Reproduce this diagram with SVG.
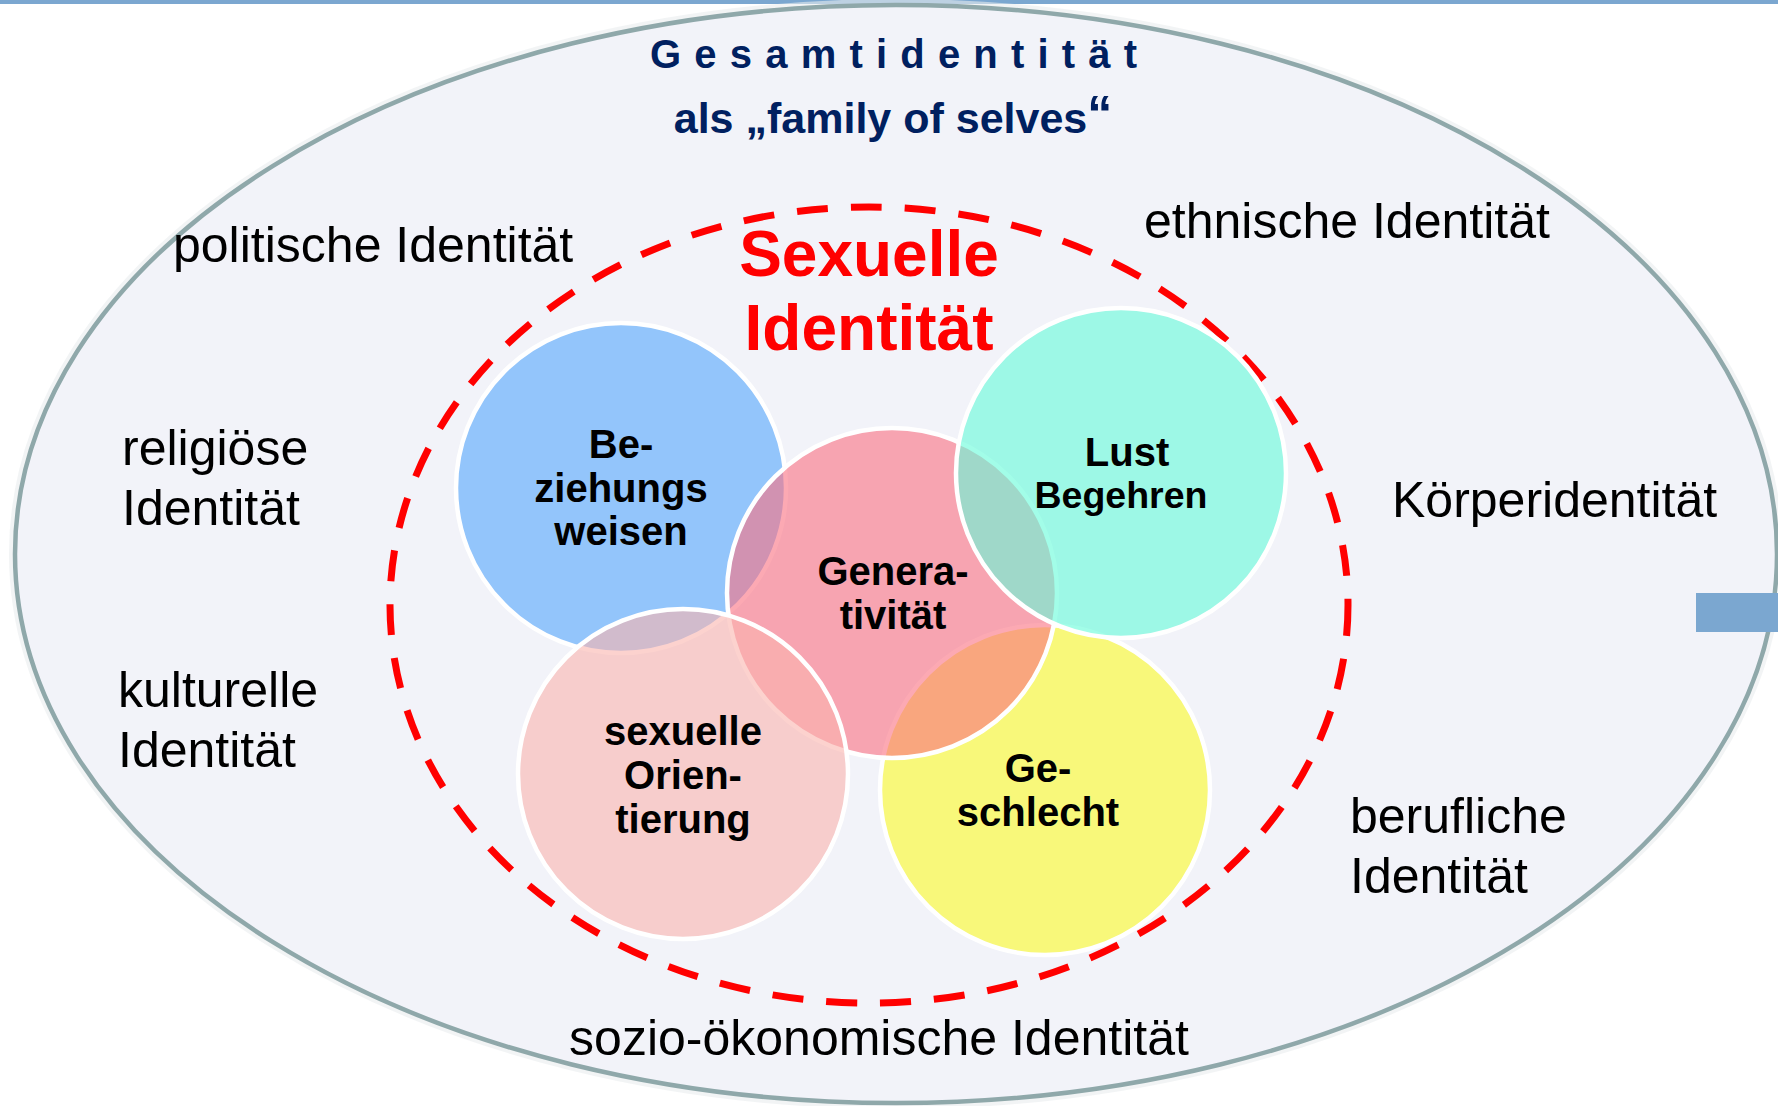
<svg xmlns="http://www.w3.org/2000/svg" width="1778" height="1106" viewBox="0 0 1778 1106">
  <defs>
    <style>
      .lbl { font-family: "Liberation Sans", Arial, sans-serif; font-size: 50px; fill: #000; }
      .cl { font-family: "Liberation Sans", Arial, sans-serif; font-size: 40px; font-weight: bold; fill: #000; text-anchor: middle; }
      .venn { stroke: #ffffff; stroke-width: 4.5; fill-opacity: 0.6; }
      .title { font-family: "Liberation Sans", Arial, sans-serif; font-weight: bold; fill: #002060; }
      .red { font-family: "Liberation Sans", Arial, sans-serif; font-weight: bold; font-size: 64px; fill: #ff0000; text-anchor: middle; }
    </style>
  </defs>
  <rect x="0" y="0" width="1778" height="1106" fill="#ffffff"/>
  <rect x="0" y="0" width="1778" height="4" fill="#7BA7D0"/>

  <g id="gesamtidentitaet">
    <ellipse cx="896" cy="554" rx="884" ry="552" fill="none" stroke="#e9ecef" stroke-width="6" opacity="0.6"/>
    <ellipse cx="896" cy="554" rx="881" ry="549" fill="#F2F3F9" stroke="#8FA8AA" stroke-width="4.5"/>
    <text class="title" x="650" y="68" font-size="40" letter-spacing="13.2">Gesamtidentität</text>
    <text class="title" x="893" y="133" font-size="43" text-anchor="middle">als „family of selves<tspan font-size="50" dy="-2">“</tspan></text>
  </g>

  <rect x="1696" y="593" width="82" height="39" fill="#7BA7D0"/>

  <g id="outer-labels">
    <text class="lbl" x="173" y="262">politische Identität</text>
    <text class="lbl" x="1144" y="238">ethnische Identität</text>
    <text class="lbl" x="122" y="465">religiöse</text>
    <text class="lbl" x="122" y="525">Identität</text>
    <text class="lbl" x="118" y="707">kulturelle</text>
    <text class="lbl" x="118" y="767">Identität</text>
    <text class="lbl" x="1392" y="517">Körperidentität</text>
    <text class="lbl" x="1350" y="833">berufliche</text>
    <text class="lbl" x="1350" y="893">Identität</text>
    <text class="lbl" x="879" y="1055" text-anchor="middle">sozio-ökonomische Identität</text>
  </g>

  <g id="sexuelle-identitaet">
    <ellipse cx="869" cy="605" rx="479" ry="398" fill="none" stroke="#ff0000" stroke-width="7" stroke-dasharray="31 23"/>
    <text class="red" x="869" y="276">Sexuelle</text>
    <text class="red" x="869" y="350">Identität</text>
  </g>

  <g id="beziehungsweisen">
    <circle class="venn" cx="621" cy="488" r="165" fill="#54A6FC"/>
  </g>
  <g id="geschlecht">
    <circle class="venn" cx="1045" cy="790" r="165" fill="#FCFB25"/>
  </g>
  <g id="generativitaet">
    <circle class="venn" cx="892" cy="593" r="165" fill="#FA7080"/>
  </g>
  <g id="lust-begehren">
    <circle class="venn" cx="1121" cy="473" r="165" fill="#64FBD8"/>
  </g>
  <g id="sexuelle-orientierung">
    <circle class="venn" cx="683" cy="774" r="165" fill="#FAB4AE"/>
  </g>

  <g id="venn-labels">
    <text class="cl" x="621" y="458">Be-</text>
    <text class="cl" x="621" y="502">ziehungs</text>
    <text class="cl" x="621" y="545">weisen</text>
    <text class="cl" x="893" y="585">Genera-</text>
    <text class="cl" x="893" y="629">tivität</text>
    <text class="cl" x="1127" y="466">Lust</text>
    <text class="cl" x="1121" y="508" style="font-size:37.5px">Begehren</text>
    <text class="cl" x="683" y="745">sexuelle</text>
    <text class="cl" x="683" y="789">Orien-</text>
    <text class="cl" x="683" y="833">tierung</text>
    <text class="cl" x="1038" y="782">Ge-</text>
    <text class="cl" x="1038" y="826">schlecht</text>
  </g>
  <g id="connectors"></g>
</svg>
